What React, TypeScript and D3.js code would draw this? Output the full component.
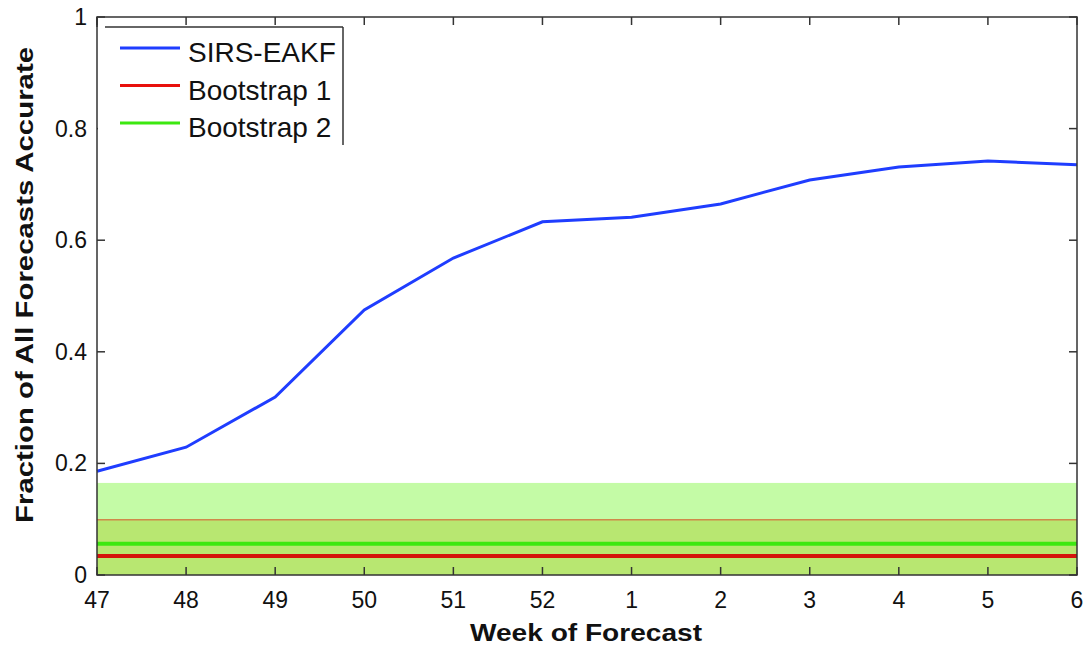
import * as d3 from "d3";

const weeks = ["47", "48", "49", "50", "51", "52", "1", "2", "3", "4", "5", "6"];
const sirsEakf = [0.186, 0.229, 0.319, 0.475, 0.568, 0.633, 0.641, 0.665, 0.708, 0.731, 0.742, 0.735];
const bootstrap1 = { mean: 0.034, upper: 0.099 };
const bootstrap2 = { mean: 0.056, upper: 0.165 };
const yTicks = [0, 0.2, 0.4, 0.6, 0.8, 1];

const W = 1083;
const H = 647;
const M = { left: 97, right: 6, top: 17, bottom: 72 };
const FONT = "'Liberation Sans', Arial, Helvetica, sans-serif";

export default function App() {
  const x = d3
    .scalePoint<string>()
    .domain(weeks)
    .range([M.left, W - M.right]);
  const y = d3.scaleLinear().domain([0, 1]).range([H - M.bottom, M.top]);

  const line = d3
    .line<number>()
    .x((_, i) => x(weeks[i]) as number)
    .y((d) => y(d));

  const x0 = M.left;
  const x1 = W - M.right;
  const yBot = y(0);
  const yTop = y(1);
  const tick = 8;

  const legendItems = [
    { label: "SIRS-EAKF", color: "#1f3dff" },
    { label: "Bootstrap 1", color: "#e8100c" },
    { label: "Bootstrap 2", color: "#3ce810" },
  ];

  return (
    <svg
      width={W}
      height={H}
      style={{ position: "absolute", left: 0, top: 0, background: "#fff" }}
      fontFamily={FONT}
    >
      {/* bootstrap bands */}
      <rect
        x={x0}
        y={y(bootstrap2.upper)}
        width={x1 - x0}
        height={yBot - y(bootstrap2.upper)}
        fill="#c4fba6"
      />
      <rect
        x={x0}
        y={y(bootstrap1.upper)}
        width={x1 - x0}
        height={yBot - y(bootstrap1.upper)}
        fill="#b8e771"
      />
      <line x1={x0} x2={x1} y1={y(bootstrap1.upper)} y2={y(bootstrap1.upper)} stroke="#d0884a" strokeWidth={1.5} />
      <line x1={x0} x2={x1} y1={y(bootstrap2.mean)} y2={y(bootstrap2.mean)} stroke="#3ce810" strokeWidth={4} />
      <line x1={x0} x2={x1} y1={y(bootstrap1.mean)} y2={y(bootstrap1.mean)} stroke="#d4140c" strokeWidth={4} />

      {/* main series */}
      <path d={line(sirsEakf) ?? ""} fill="none" stroke="#1f3dff" strokeWidth={3} />

      {/* frame */}
      <rect x={x0} y={yTop} width={x1 - x0} height={yBot - yTop} fill="none" stroke="#333" strokeWidth={1.5} />

      {/* x ticks */}
      {weeks.map((w) => {
        const px = x(w) as number;
        return (
          <g key={w}>
            <line x1={px} x2={px} y1={yBot} y2={yBot - tick} stroke="#333" strokeWidth={1.5} />
            <line x1={px} x2={px} y1={yTop} y2={yTop + tick} stroke="#333" strokeWidth={1.5} />
            <text x={px} y={608} textAnchor="middle" fontSize={23} fill="#111">
              {w}
            </text>
          </g>
        );
      })}

      {/* y ticks */}
      {yTicks.map((t) => (
        <g key={t}>
          <line x1={x0} x2={x0 + tick} y1={y(t)} y2={y(t)} stroke="#333" strokeWidth={1.5} />
          <line x1={x1} x2={x1 - tick} y1={y(t)} y2={y(t)} stroke="#333" strokeWidth={1.5} />
          <text x={x0 - 10} y={y(t)} dy="0.35em" textAnchor="end" fontSize={23} fill="#111">
            {t === 0 || t === 1 ? String(t) : d3.format(".1f")(t)}
          </text>
        </g>
      ))}

      {/* legend */}
      <g>
        <rect x={x0 + 1} y={27} width={343 - x0 - 1} height={118} fill="#fff" />
        <line x1={105} x2={343} y1={27} y2={27} stroke="#333" strokeWidth={1.5} />
        <line x1={343} x2={343} y1={27} y2={145} stroke="#333" strokeWidth={1.5} />
        <line x1={x0} x2={x0} y1={yTop} y2={27} stroke="#333" strokeWidth={1.5} />
        {legendItems.map((it, i) => {
          const ly = 48 + i * 37.5;
          return (
            <g key={it.label}>
              <line x1={120} x2={180} y1={ly} y2={ly} stroke={it.color} strokeWidth={3} />
              <text x={188} y={ly + 14} fontSize={28} fill="#111">
                {it.label}
              </text>
            </g>
          );
        })}
      </g>

      {/* axis titles */}
      <text
        x={586}
        y={641}
        textAnchor="middle"
        fontSize={23}
        fontWeight="bold"
        fill="#111"
        textLength={232}
        lengthAdjust="spacingAndGlyphs"
      >
        Week of Forecast
      </text>
      <text
        transform={`translate(33,285) rotate(-90)`}
        textAnchor="middle"
        fontSize={24}
        fontWeight="bold"
        fill="#111"
        textLength={476}
        lengthAdjust="spacingAndGlyphs"
      >
        Fraction of All Forecasts Accurate
      </text>
    </svg>
  );
}
